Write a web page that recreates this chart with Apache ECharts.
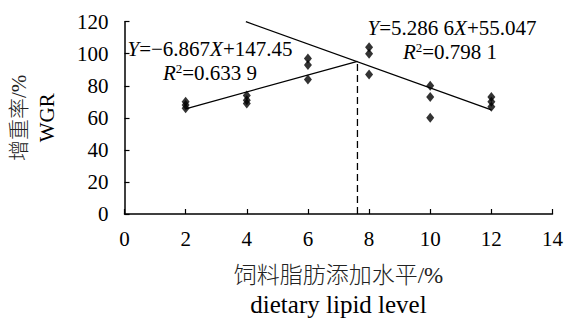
<!DOCTYPE html>
<html><head><meta charset="utf-8">
<script src="https://cdn.jsdelivr.net/npm/echarts@6/dist/echarts.min.js"></script>
<style>html,body{margin:0;padding:0;background:#fff}#c{width:566px;height:322px}</style>
</head><body><div id="c"></div>
<script>
// observed data: lipid level (%) and WGR (%)
const levels = [2, 4, 6, 8, 10, 12];
const wgr = [
  [70, 68, 66],
  [74, 71, 69],
  [97, 93, 84],
  [104, 100, 87],
  [80, 73, 60],
  [73, 70, 67]
];
// trend line endpoints
const riseLine = [[2, 65.6], [7.62, 95.3]];
const fallLine = [[3.97, 120], [12, 65.0]];
const breakPoint = [[7.62, 0], [7.62, 95.3]];
const xTicks = [0, 2, 4, 6, 8, 10, 12, 14];
const yTicks = [0, 20, 40, 60, 80, 100, 120];

const FONT = '"Liberation Serif", "Noto Sans CJK SC", serif';
const pts = [];
levels.forEach((x, i) => wgr[i].forEach(v => pts.push([x, v])));

const rich = {
  i: {fontFamily: FONT, fontStyle: 'italic', fontSize: 21, color: '#000'},
  n: {fontFamily: FONT, fontSize: 21, color: '#000'},
  sup: {fontFamily: FONT, fontSize: 13, color: '#000', verticalAlign: 'top', padding: [0, 0, 9, 0]}
};
function txt(x, y, s) {
  return {type: 'text', x: x, y: y,
    style: {text: s, rich: rich, align: 'center', verticalAlign: 'middle', fill: '#000'}, z: 10};
}

const chart = echarts.init(document.getElementById('c'), null, {renderer: 'svg'});
chart.setOption({
  animation: false,
  grid: {left: 122, right: 13, top: 21.7, bottom: 102.7},
  xAxis: {
    type: 'value', min: xTicks[0], max: xTicks[xTicks.length - 1], interval: 2,
    axisLine: {lineStyle: {color: '#000', width: 1.5}},
    axisTick: {inside: true, length: 5, lineStyle: {color: '#000', width: 1.2}},
    splitLine: {show: false},
    axisLabel: {color: '#000', fontFamily: FONT, fontSize: 21, margin: 14},
    name: '{cn|饲料脂肪添加水平/%}\n{en|dietary lipid level}',
    nameLocation: 'middle', nameGap: 47,
    nameTextStyle: {
      rich: {
        cn: {fontFamily: FONT, fontSize: 23, fontWeight: 300, color: '#222', lineHeight: 29},
        en: {fontFamily: FONT, fontSize: 25, color: '#000', lineHeight: 29}
      }
    }
  },
  yAxis: {
    type: 'value', min: yTicks[0], max: yTicks[yTicks.length - 1], interval: 20,
    axisLine: {show: true, lineStyle: {color: '#000', width: 1.5}},
    axisTick: {show: true, inside: true, length: 5, lineStyle: {color: '#000', width: 1.2}},
    splitLine: {show: false},
    axisLabel: {color: '#000', fontFamily: FONT, fontSize: 21, margin: 16},
    name: '{cn|增重率/%}\n{en|WGR}',
    nameLocation: 'middle', nameGap: 64, nameRotate: 90,
    nameTextStyle: {
      rich: {
        cn: {fontFamily: FONT, fontSize: 21, fontWeight: 300, color: '#222', lineHeight: 28},
        en: {fontFamily: FONT, fontSize: 21, color: '#000', lineHeight: 28}
      }
    }
  },
  series: [
    {type: 'scatter', data: pts, symbol: 'diamond', symbolSize: [8, 10],
     itemStyle: {color: '#000'}, z: 5},
    {type: 'line', data: riseLine, symbol: 'none', lineStyle: {color: '#000', width: 1.3}},
    {type: 'line', data: fallLine, symbol: 'none', lineStyle: {color: '#000', width: 1.3}},
    {type: 'line', data: breakPoint, symbol: 'none',
     lineStyle: {color: '#000', width: 1.3, type: [7, 4]}}
  ],
  graphic: [
    txt(210, 49, '{i|Y}{n|=−6.867}{i|X}{n|+147.45}'),
    txt(210, 73, '{i|R}{sup|2}{n|=0.633 9}'),
    txt(452, 28, '{i|Y}{n|=5.286 6}{i|X}{n|+55.047}'),
    txt(450, 52, '{i|R}{sup|2}{n|=0.798 1}')
  ]
});
</script></body></html>
